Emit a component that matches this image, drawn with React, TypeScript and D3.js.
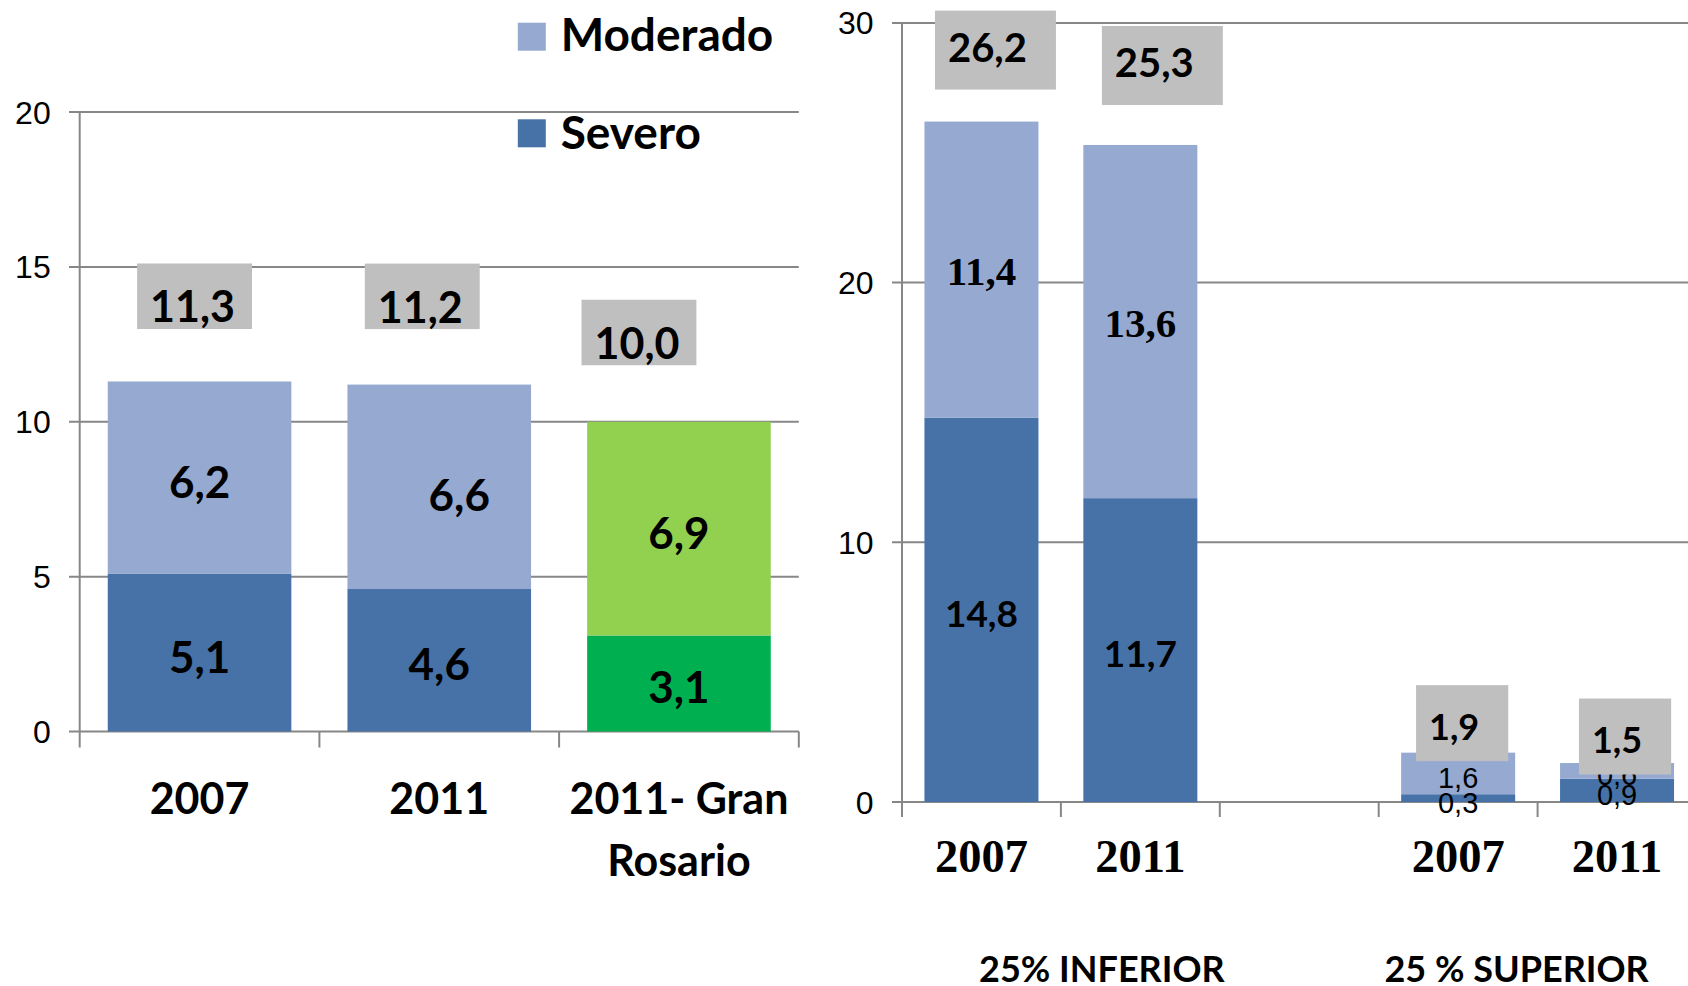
import React, { useEffect, useRef } from "react";
import * as d3 from "d3";

// ---- data ----
const leftCategories = ["2007", "2011", "2011- Gran\nRosario"];
const leftSevero = [5.1, 4.6, 3.1];
const leftModerado = [6.2, 6.6, 6.9];
const leftTotal = [11.3, 11.2, 10.0];
const leftTicks = [0, 5, 10, 15, 20];

const rightSlots = ["inf2007", "inf2011", "gap", "sup2007", "sup2011"];
const rightCategories = ["2007", "2011", "", "2007", "2011"];
const rightSevero = [14.8, 11.7, null, 0.3, 0.9];
const rightModerado = [11.4, 13.6, null, 1.6, 0.6];
const rightTotal = [26.2, 25.3, null, 1.9, 1.5];
const rightTicks = [0, 10, 20, 30];
const rightGroups = ["25% INFERIOR", "25 % SUPERIOR"];

const legendItems = ["Moderado", "Severo"];

// ---- styling / layout ----
const C_MOD = "#95A9D1";
const C_SEV = "#4672A8";
const C_GREEN_L = "#92D050";
const C_GREEN_D = "#00B050";
const C_BOX = "#BFBFBF";
const C_GRID = "#878787";

const SANS = "Lato, 'Open Sans', sans-serif";
const SERIF = "'Liberation Serif', 'DejaVu Serif', serif";
const ARIAL = "'Liberation Sans', Arial, sans-serif";

// manual nudges of the data labels (px), as they were dragged in the original
const leftTotalNudge = [[-7, -59], [-19, -62], [-42, -63]];
const leftModNudge = [[0, 0], [20, 4], [0, 0]];
const rightTotalNudge = [[6, -60], [14, -68], [0, 0], [-4, -13], [0, -10]];
const groupNudge = [41, -21];

const fmt = (v: number) => d3.format(".1f")(v).replace(".", ",");

export default function App() {
  const ref = useRef<SVGSVGElement>(null);

  useEffect(() => {
    const svg = d3.select(ref.current);
    svg.selectAll("*").remove();

    // ================= LEFT PANEL =================
    const yL = d3.scaleLinear().domain([0, 20]).range([731.5, 112]);
    const xL = d3
      .scaleBand<string>()
      .domain(leftCategories)
      .range([79.7, 798.8])
      .paddingInner(0.234)
      .paddingOuter(0.117);
    const gL = svg.append("g");

    gL.selectAll("line.grid")
      .data(leftTicks)
      .join("line")
      .attr("x1", 69)
      .attr("x2", 798.8)
      .attr("y1", (d) => yL(d))
      .attr("y2", (d) => yL(d))
      .attr("stroke", C_GRID)
      .attr("stroke-width", 2);

    gL.selectAll("line.xtick")
      .data(d3.range(leftCategories.length + 1))
      .join("line")
      .attr("x1", (i) => xL.range()[0] + i * xL.step())
      .attr("x2", (i) => xL.range()[0] + i * xL.step())
      .attr("y1", (i) => (i === 0 ? yL(20) : yL(0)))
      .attr("y2", yL(0) + 16)
      .attr("stroke", C_GRID)
      .attr("stroke-width", 2);

    gL.selectAll("text.ytick")
      .data(leftTicks)
      .join("text")
      .attr("x", 50.7)
      .attr("y", (d) => yL(d))
      .attr("dy", "0.36em")
      .attr("text-anchor", "end")
      .style("font-family", ARIAL)
      .style("font-size", "32px")
      .text((d) => d);

    const leftRows = leftCategories.map((c, i) => ({
      cat: c,
      severo: leftSevero[i],
      moderado: leftModerado[i],
    }));
    const leftStack = d3.stack<any>().keys(["severo", "moderado"])(leftRows);
    const leftColors: Record<string, string[]> = {
      severo: [C_SEV, C_SEV, C_GREEN_D],
      moderado: [C_MOD, C_MOD, C_GREEN_L],
    };

    leftStack.forEach((layer) => {
      gL.selectAll(`rect.${layer.key}`)
        .data(layer)
        .join("rect")
        .attr("x", (d: any) => xL(d.data.cat)!)
        .attr("width", xL.bandwidth())
        .attr("y", (d) => yL(d[1]))
        .attr("height", (d) => yL(d[0]) - yL(d[1]))
        .attr("fill", (d, i) => leftColors[layer.key][i]);
    });

    leftStack.forEach((layer) => {
      gL.selectAll(`text.${layer.key}`)
        .data(layer)
        .join("text")
        .attr("x", (d: any, i) => xL(d.data.cat)! + xL.bandwidth() / 2 + (layer.key === "moderado" ? leftModNudge[i][0] : 0))
        .attr("y", (d, i) => (yL(d[0]) + yL(d[1])) / 2 + 20 + (layer.key === "moderado" ? leftModNudge[i][1] : 0))
        .attr("text-anchor", "middle")
        .style("font-family", SANS)
        .style("font-weight", 700)
        .style("font-size", "44px")
        .text((d) => fmt(d[1] - d[0]));
    });

    leftTotal.forEach((t, i) => {
      const cx = xL(leftCategories[i])! + xL.bandwidth() / 2 + leftTotalNudge[i][0];
      const by = yL(t) + leftTotalNudge[i][1];
      const rect = gL.append("rect").attr("fill", C_BOX);
      const txt = gL
        .append("text")
        .attr("x", cx)
        .attr("y", by)
        .attr("text-anchor", "middle")
        .style("font-family", SANS)
        .style("font-weight", 700)
        .style("font-size", "43px")
        .text(fmt(t));
      const w = (txt.node() as SVGTextElement).getComputedTextLength() + 30;
      rect
        .attr("x", cx + 2 - w / 2)
        .attr("width", w)
        .attr("y", by - 59)
        .attr("height", 65.5);
    });

    leftCategories.forEach((c) => {
      const t = gL
        .append("text")
        .attr("text-anchor", "middle")
        .style("font-family", SANS)
        .style("font-weight", 700)
        .style("font-size", "43px");
      c.split("\n").forEach((line, j) => {
        t.append("tspan")
          .attr("x", xL(c)! + xL.bandwidth() / 2)
          .attr("y", 814 + j * 61.6)
          .text(line);
      });
    });

    // legend
    const gLeg = svg.append("g");
    legendItems.forEach((name, i) => {
      gLeg.append("rect")
        .attr("x", 517.8)
        .attr("y", 22.7 + i * 96.6)
        .attr("width", 28)
        .attr("height", 28)
        .attr("fill", name === "Moderado" ? C_MOD : C_SEV);
      gLeg.append("text")
        .attr("x", 560.7)
        .attr("y", 50.7 + i * 98.6)
        .style("font-family", SANS)
        .style("font-weight", 700)
        .style("font-size", "46px")
        .text(name);
    });

    // ================= RIGHT PANEL =================
    const yR = d3.scaleLinear().domain([0, 30]).range([802, 22.9]);
    const xR = d3
      .scaleBand<string>()
      .domain(rightSlots)
      .range([902, 1696.5])
      .paddingInner(0.2826)
      .paddingOuter(0.1413);
    const gR = svg.append("g");

    gR.selectAll("line.grid")
      .data(rightTicks)
      .join("line")
      .attr("x1", 892)
      .attr("x2", 1688)
      .attr("y1", (d) => yR(d))
      .attr("y2", (d) => yR(d))
      .attr("stroke", C_GRID)
      .attr("stroke-width", 2);

    gR.selectAll("line.xtick")
      .data(d3.range(rightSlots.length + 1))
      .join("line")
      .attr("x1", (i) => xR.range()[0] + i * xR.step())
      .attr("x2", (i) => xR.range()[0] + i * xR.step())
      .attr("y1", (i) => (i === 0 ? yR(30) : yR(0)))
      .attr("y2", yR(0) + 15)
      .attr("stroke", C_GRID)
      .attr("stroke-width", 2);

    gR.selectAll("text.ytick")
      .data(rightTicks)
      .join("text")
      .attr("x", 873.5)
      .attr("y", (d) => yR(d))
      .attr("dy", "0.36em")
      .attr("text-anchor", "end")
      .style("font-family", ARIAL)
      .style("font-size", "32px")
      .text((d) => d);

    const rightRows = rightSlots
      .map((s, i) => ({ slot: s, idx: i, severo: rightSevero[i], moderado: rightModerado[i] }))
      .filter((r) => r.severo !== null);
    const rightStack = d3.stack<any>().keys(["severo", "moderado"])(rightRows);

    rightStack.forEach((layer) => {
      gR.selectAll(`rect.${layer.key}`)
        .data(layer)
        .join("rect")
        .attr("x", (d: any) => xR(d.data.slot)!)
        .attr("width", xR.bandwidth())
        .attr("y", (d) => yR(d[1]))
        .attr("height", (d) => yR(d[0]) - yR(d[1]))
        .attr("fill", layer.key === "severo" ? C_SEV : C_MOD);
    });

    const segStyle = (key: string, idx: number) => {
      if (idx >= 3) return { family: ARIAL, weight: 400, size: 29, dy: 0.5 };
      if (key === "moderado") return { family: SERIF, weight: 700, size: 41, dy: 0.38 };
      return { family: SANS, weight: 700, size: 37, dy: 0.46 };
    };

    rightStack.forEach((layer) => {
      layer.forEach((d: any) => {
        const st = segStyle(layer.key, d.data.idx);
        gR.append("text")
          .attr("x", xR(d.data.slot)! + xR.bandwidth() / 2)
          .attr("y", (yR(d[0]) + yR(d[1])) / 2 + st.dy * st.size)
          .attr("text-anchor", "middle")
          .style("font-family", st.family)
          .style("font-weight", st.weight)
          .style("font-size", `${st.size}px`)
          .text(fmt(d[1] - d[0]));
      });
    });

    rightTotal.forEach((t, i) => {
      if (t === null) return;
      const sup = i >= 3;
      const cx = xR(rightSlots[i])! + xR.bandwidth() / 2 + rightTotalNudge[i][0];
      const by = yR(t) + rightTotalNudge[i][1];
      const rect = gR.append("rect").attr("fill", C_BOX);
      const txt = gR
        .append("text")
        .attr("x", cx)
        .attr("y", by)
        .attr("text-anchor", "middle")
        .style("font-family", SANS)
        .style("font-weight", 700)
        .style("font-size", sup ? "36px" : "40px")
        .text(fmt(t));
      const w = (txt.node() as SVGTextElement).getComputedTextLength() + 42;
      const top = sup ? 54.5 : 51;
      const bottom = sup ? 21.5 : 28;
      rect
        .attr("x", cx + 8 - w / 2)
        .attr("width", w)
        .attr("y", by - top)
        .attr("height", top + bottom);
    });

    gR.selectAll("text.cat")
      .data(rightSlots)
      .join("text")
      .attr("x", (s) => xR(s)! + xR.bandwidth() / 2)
      .attr("y", 872)
      .attr("text-anchor", "middle")
      .style("font-family", SERIF)
      .style("font-weight", 700)
      .style("font-size", "46.5px")
      .text((s, i) => rightCategories[i]);

    rightGroups.forEach((g, gi) => {
      const a = rightSlots[gi * 3];
      const b = rightSlots[gi * 3 + 1];
      const mid = (xR(a)! + xR(b)!) / 2 + xR.bandwidth() / 2;
      gR.append("text")
        .attr("x", mid + groupNudge[gi])
        .attr("y", 982)
        .attr("text-anchor", "middle")
        .style("font-family", SANS)
        .style("font-weight", 700)
        .style("font-size", "36px")
        .text(g);
    });
  }, []);

  return (
    <svg
      ref={ref}
      width={1688}
      height={986}
      style={{ position: "absolute", left: 0, top: 0, background: "#fff" }}
    />
  );
}
